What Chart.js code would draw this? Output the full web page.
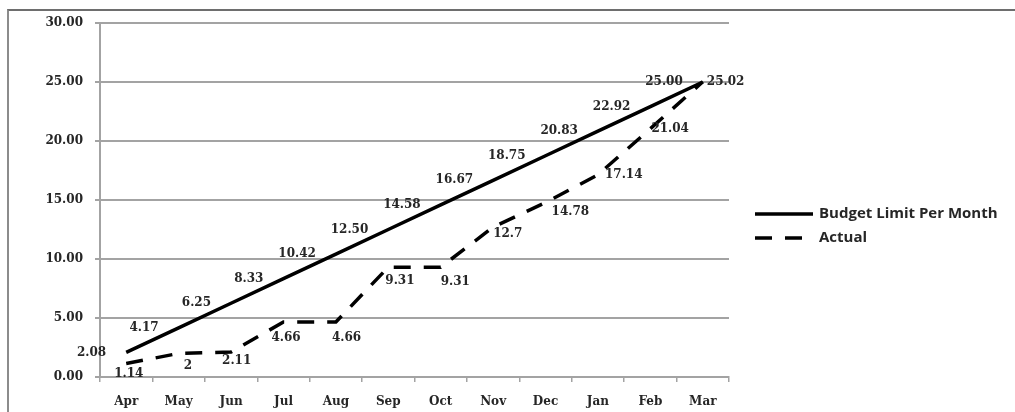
<!DOCTYPE html>
<html>
<head>
<meta charset="utf-8">
<script src="https://cdn.jsdelivr.net/npm/chart.js@4.4.1/dist/chart.umd.min.js"></script>
<style>
  html, body { margin: 0; padding: 0; background: #ffffff; }
  #wrap { position: relative; width: 1015px; height: 412px; overflow: hidden; background: #ffffff; }
  #frame { position: absolute; left: 7px; top: 9px; width: 1100px; height: 500px;
           border-left: 2px solid #8c8c8c; border-top: 2px solid #6e6e6e; pointer-events: none; }
  canvas { position: absolute; left: 0; top: 0; }
</style>
</head>
<body>
<div id="wrap">
  <div id="frame"></div>
  <canvas id="chart" width="1015" height="412"></canvas>
</div>
<script>
// Monthly budget allowance versus cumulative actual spend
const months = ['Apr', 'May', 'Jun', 'Jul', 'Aug', 'Sep', 'Oct', 'Nov', 'Dec', 'Jan', 'Feb', 'Mar'];
const budgetLimit = [2.08, 4.17, 6.25, 8.33, 10.42, 12.50, 14.58, 16.67, 18.75, 20.83, 22.92, 25.00];
const actualSpend = [1.14, 2, 2.11, 4.66, 4.66, 9.31, 9.31, 12.7, 14.78, 17.14, 21.04, 25.02];
const seriesNames = ['Budget Limit Per Month', 'Actual'];

// hand-placed nudges for the "Actual" value labels (dx, dy from the point)
const actualLabelNudge = [
  [-12, 10], [5, 12], [-9, 9], [-12, 16], [-4, 16], [-3, 14],
  [0, 15], [0, 7], [6, 9], [7, 0], [1, 0], [4, 0]
];

const serifFont = { family: '"DejaVu Serif", serif', size: 12, weight: 'bold' };
const inkColor = '#262626';
const gridColor = '#a3a3a3';

const valueLabels = {
  id: 'valueLabels',
  afterDatasetsDraw(chart) {
    const ctx = chart.ctx;
    ctx.save();
    ctx.font = 'bold 12px "DejaVu Serif", serif';
    ctx.fillStyle = inkColor;
    ctx.textBaseline = 'middle';

    ctx.textAlign = 'right';
    chart.getDatasetMeta(0).data.forEach((pt, i) => {
      ctx.fillText(budgetLimit[i].toFixed(2), pt.x - 20, pt.y);
    });

    ctx.textAlign = 'left';
    chart.getDatasetMeta(1).data.forEach((pt, i) => {
      const [dx, dy] = actualLabelNudge[i];
      ctx.fillText(String(actualSpend[i]), pt.x + dx, pt.y + dy);
    });
    ctx.restore();
  }
};

const sideLegend = {
  id: 'sideLegend',
  afterDraw(chart) {
    const ctx = chart.ctx;
    const x0 = chart.chartArea.right + 26;
    const rows = [214, 238];
    ctx.save();
    ctx.font = 'bold 15px "Open Sans", sans-serif';
    ctx.textBaseline = 'middle';
    ctx.textAlign = 'left';
    chart.data.datasets.forEach((ds, i) => {
      const y = rows[i];
      ctx.strokeStyle = ds.borderColor;
      ctx.lineWidth = ds.borderWidth;
      ctx.setLineDash(ds.borderDash || []);
      ctx.beginPath();
      ctx.moveTo(x0, y);
      ctx.lineTo(x0 + 58, y);
      ctx.stroke();
      ctx.setLineDash([]);
      ctx.fillStyle = inkColor;
      ctx.fillText(ds.label, x0 + 64, y);
    });
    ctx.restore();
  }
};

new Chart(document.getElementById('chart'), {
  type: 'line',
  data: {
    labels: months,
    datasets: [
      {
        label: seriesNames[0],
        data: budgetLimit,
        borderColor: '#000000',
        borderWidth: 3.5,
        pointRadius: 0,
        tension: 0,
        fill: false
      },
      {
        label: seriesNames[1],
        data: actualSpend,
        borderColor: '#000000',
        borderWidth: 3.5,
        borderDash: [17, 13],
        borderCapStyle: 'butt',
        pointRadius: 0,
        tension: 0,
        fill: false
      }
    ]
  },
  options: {
    responsive: false,
    animation: false,
    events: [],
    layout: { padding: { top: 23, right: 286, left: 0, bottom: 0 } },
    plugins: {
      legend: { display: false },
      tooltip: { enabled: false },
      title: { display: false }
    },
    scales: {
      x: {
        type: 'category',
        offset: true,
        afterFit(scale) { scale.height = 35; },
        grid: {
          display: true,
          offset: true,
          drawOnChartArea: false,
          drawTicks: true,
          tickLength: 5,
          color: gridColor,
          lineWidth: 1.5
        },
        border: { display: true, color: gridColor, width: 2 },
        ticks: { color: inkColor, font: serifFont, padding: 13, maxRotation: 0, autoSkip: false }
      },
      y: {
        min: 0,
        max: 30,
        afterFit(scale) { scale.width = 100; },
        grid: {
          color: gridColor,
          lineWidth: 2,
          tickLength: 5,
          drawTicks: true
        },
        border: { display: true, color: gridColor, width: 2 },
        ticks: {
          stepSize: 5,
          color: inkColor,
          font: serifFont,
          padding: 12,
          callback: (v) => Number(v).toFixed(2)
        }
      }
    }
  },
  plugins: [valueLabels, sideLegend]
});
</script>
</body>
</html>
